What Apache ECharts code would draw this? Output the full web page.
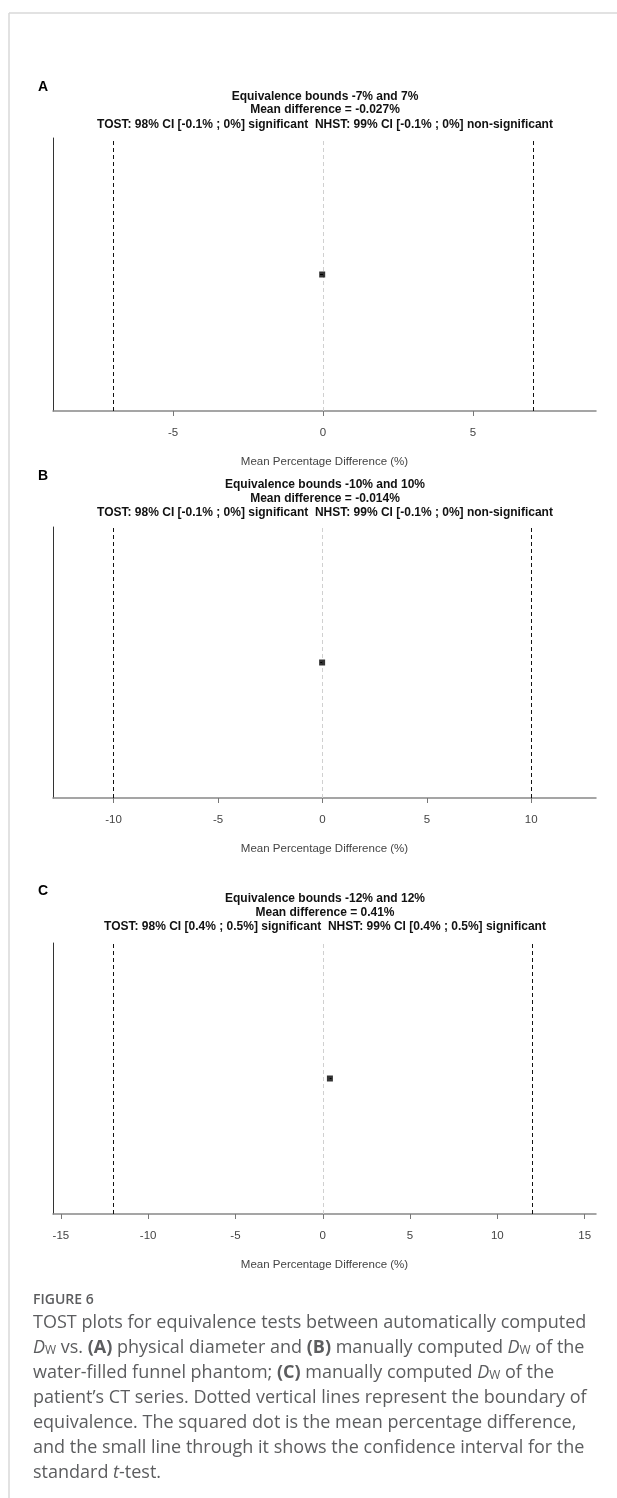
<!DOCTYPE html>
<html>
<head>
<meta charset="utf-8">
<script src="https://cdn.jsdelivr.net/npm/echarts@6/dist/echarts.min.js"></script>
<style>
  html, body { margin: 0; padding: 0; background: #fff; }
  #chart { width: 617px; height: 1498px; }
</style>
</head>
<body>
<div id="chart"></div>
<script>
// values
const panelLabels = ["A", "B", "C"];
const bounds = [7, 10, 12];
const meanDiff = [-0.027, -0.014, 0.41];
const ciLow = [-0.1, -0.1, 0.4];
const ciHigh = [0, 0, 0.5];
const xMin = [-9, -12.9, -15.45];
const xMax = [9.1, 13.1, 15.65];
const tickValues = [
  [-5, 0, 5],
  [-10, -5, 0, 5, 10],
  [-15, -10, -5, 0, 5, 10, 15],
];
const titleLines = [
  ["Equivalence bounds -7% and 7%", "Mean difference = -0.027%",
   "TOST: 98% CI [-0.1% ; 0%] significant  NHST: 99% CI [-0.1% ; 0%] non-significant"],
  ["Equivalence bounds -10% and 10%", "Mean difference = -0.014%",
   "TOST: 98% CI [-0.1% ; 0%] significant  NHST: 99% CI [-0.1% ; 0%] non-significant"],
  ["Equivalence bounds -12% and 12%", "Mean difference = 0.41%",
   "TOST: 98% CI [0.4% ; 0.5%] significant  NHST: 99% CI [0.4% ; 0.5%] significant"],
];
const axisName = "Mean Percentage Difference (%)";
const captionHead = "FIGURE 6";
const captionLines = [
  "TOST plots for equivalence tests between automatically computed",
  "{i|D}{sub|W} vs. {b|(A)} physical diameter and {b|(B)} manually computed {i|D}{sub|W} of the",
  "water-filled funnel phantom; {b|(C)} manually computed {i|D}{sub|W} of the",
  "patient\u2019s CT series. Dotted vertical lines represent the boundary of",
  "equivalence. The squared dot is the mean percentage difference,",
  "and the small line through it shows the confidence interval for the",
  "standard {i|t}-test.",
];

// layout
const FONT = "Liberation Sans, Arial, sans-serif";
const CAP_FONT = "Open Sans";
const gridTop = [138, 527, 943];
const gridHeight = [273, 271, 271];
const labelY = [87, 476, 891];
const titleY = [[97, 110, 125], [485, 499, 513], [899, 913, 927]];

const chart = echarts.init(document.getElementById("chart"));

const grid = [], xAxis = [], yAxis = [], series = [], graphic = [];

panelLabels.forEach((lab, i) => {
  grid.push({ left: 53, right: 21, top: gridTop[i], height: gridHeight[i] });
  xAxis.push({
    gridIndex: i,
    type: "value",
    min: xMin[i],
    max: xMax[i],
    axisLine: { show: true, onZero: false, lineStyle: { color: "#888", width: 1.5 } },
    axisTick: { show: true, customValues: tickValues[i], length: 5, lineStyle: { color: "#777" } },
    axisLabel: { customValues: tickValues[i], margin: 16, color: "#444", fontSize: 11.5, fontFamily: FONT },
    splitLine: { show: false },
    name: axisName,
    nameLocation: "middle",
    nameGap: 45,
    nameTextStyle: { color: "#444", fontSize: 11.5, fontFamily: FONT },
  });
  yAxis.push({
    gridIndex: i,
    type: "value",
    min: 0,
    max: 1,
    axisLine: { show: true, onZero: false, lineStyle: { color: "#333", width: 1 } },
    axisTick: { show: false },
    axisLabel: { show: false },
    splitLine: { show: false },
  });

  series.push({
    type: "scatter",
    xAxisIndex: i,
    yAxisIndex: i,
    symbol: "rect",
    symbolSize: 6,
    itemStyle: { color: "#000" },
    data: [[meanDiff[i], 0.5]],
    z: 5,
    markLine: {
      silent: true,
      symbol: ["none", "none"],
      label: { show: false },
      animation: false,
      lineStyle: { color: "#111", width: 1, type: [4, 3] },
      data: [{ xAxis: -bounds[i] }, { xAxis: bounds[i] }],
    },
  });
  // zero reference line, light grey
  series.push({
    type: "line",
    xAxisIndex: i,
    yAxisIndex: i,
    data: [],
    markLine: {
      silent: true,
      symbol: ["none", "none"],
      label: { show: false },
      animation: false,
      lineStyle: { color: "#d0d0d0", width: 1, type: [4, 3] },
      data: [{ xAxis: 0 }],
    },
  });
  series.push({
    type: "line",
    xAxisIndex: i,
    yAxisIndex: i,
    symbol: "none",
    lineStyle: { color: "#000", width: 1 },
    data: [[ciLow[i], 0.5], [ciHigh[i], 0.5]],
    z: 4,
  });

  graphic.push({
    type: "text",
    x: 38,
    y: labelY[i],
    style: { text: lab, font: "bold 14px " + FONT, fill: "#000", verticalAlign: "middle" },
  });
  titleLines[i].forEach((t, k) => {
    graphic.push({
      type: "text",
      x: 325,
      y: titleY[i][k],
      style: { text: t, font: "bold 12px " + FONT, fill: "#111", align: "center", verticalAlign: "middle" },
    });
  });
});

// page frame
graphic.push({ type: "line", shape: { x1: 9, y1: 13, x2: 617, y2: 13 }, style: { stroke: "#d8d8d8", lineWidth: 1.5 } });
graphic.push({ type: "line", shape: { x1: 9, y1: 13, x2: 9, y2: 1498 }, style: { stroke: "#d8d8d8", lineWidth: 1.5 } });

// caption
graphic.push({
  type: "text",
  x: 33,
  y: 1300,
  style: { text: captionHead, font: "600 14px " + CAP_FONT, fill: "#5c5d5f", verticalAlign: "middle" },
});
graphic.push({
  type: "text",
  x: 33,
  y: 1310,
  style: {
    text: captionLines.join("\n"),
    font: "18px " + CAP_FONT,
    fill: "#5c5d5f",
    lineHeight: 25,
    rich: {
      i: { fontStyle: "italic", fontSize: 18, fontFamily: CAP_FONT, fill: "#5c5d5f", lineHeight: 25 },
      b: { fontWeight: "bold", fontSize: 18, fontFamily: CAP_FONT, fill: "#5c5d5f", lineHeight: 25 },
      sub: { fontSize: 12, fontFamily: CAP_FONT, fill: "#5c5d5f", lineHeight: 25, padding: [7, 0, 0, 0] },
    },
  },
});

chart.setOption({
  animation: false,
  backgroundColor: "#fff",
  grid,
  xAxis,
  yAxis,
  series,
  graphic,
});
</script>
</body>
</html>
